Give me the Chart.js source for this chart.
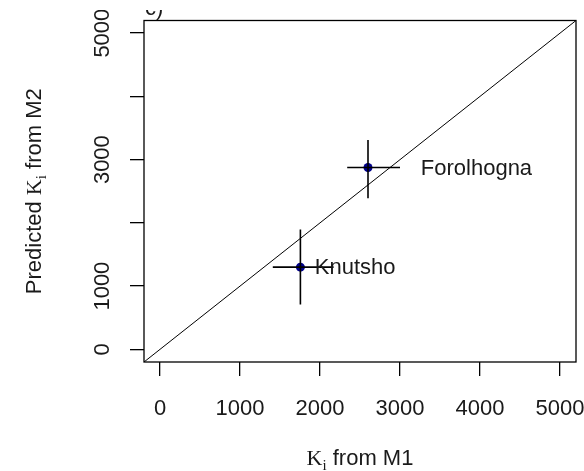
<!DOCTYPE html>
<html>
<head>
<meta charset="utf-8">
<script src="https://cdn.jsdelivr.net/npm/chart.js@4.4.1/dist/chart.umd.min.js"></script>
<style>
  html, body { margin: 0; padding: 0; background: #fff; }
  #wrap { width: 584px; height: 471px; }
</style>
</head>
<body>
<div id="wrap"><canvas id="chart" width="584" height="471"></canvas></div>
<script>
// data
const sites = ['Knutsho', 'Forolhogna'];
const kM1 = [1755, 2600];
const kM2 = [1300, 2875];
const kM1Lo = [1410, 2340];
const kM1Hi = [2170, 3000];
const kM2Lo = [710, 2390];
const kM2Hi = [1895, 3310];
const labelX = [1935, 3260];

const axisMin = -200;
const axisMax = 5200;
const xTicks = [0, 1000, 2000, 3000, 4000, 5000];
const yTickLabels = [0, 1000, 3000, 5000];

const sans = '"Liberation Sans", Arial, sans-serif';
const serif = '"Liberation Serif", "Times New Roman", serif';
const textColor = '#1a1a1a';

let datasets = [];

// 1:1 line
datasets.push({
  type: 'line',
  data: [{x: axisMin, y: axisMin}, {x: axisMax, y: axisMax}],
  borderColor: '#000',
  borderWidth: 1,
  pointRadius: 0,
  fill: false
});

// error bars
for (let i = 0; i < sites.length; i++) {
  datasets.push({
    type: 'line',
    data: [{x: kM1Lo[i], y: kM2[i]}, {x: kM1Hi[i], y: kM2[i]}],
    borderColor: '#000',
    borderWidth: 1.6,
    pointRadius: 0,
    fill: false
  });
  datasets.push({
    type: 'line',
    data: [{x: kM1[i], y: kM2Lo[i]}, {x: kM1[i], y: kM2Hi[i]}],
    borderColor: '#000',
    borderWidth: 1.6,
    pointRadius: 0,
    fill: false
  });
}

// points
datasets.push({
  type: 'scatter',
  data: sites.map((s, i) => ({x: kM1[i], y: kM2[i]})),
  backgroundColor: '#00008B',
  borderColor: '#00008B',
  pointRadius: 4.5,
  borderWidth: 0
});

// draw a title with a serif K and subscript i
function drawMixed(ctx, parts, cx, baseY) {
  let widths = parts.map(p => { ctx.font = p.font; return ctx.measureText(p.text).width; });
  let total = widths.reduce((a, b) => a + b, 0);
  let x = cx - total / 2;
  ctx.textAlign = 'left';
  ctx.textBaseline = 'alphabetic';
  for (let i = 0; i < parts.length; i++) {
    ctx.font = parts[i].font;
    ctx.fillText(parts[i].text, x, baseY + (parts[i].dy || 0));
    x += widths[i];
  }
}

const rPlot = {
  id: 'rPlot',
  afterDraw(chart) {
    const ctx = chart.ctx;
    const area = chart.chartArea;
    const xs = chart.scales.x;
    const ys = chart.scales.y;

    // box
    ctx.save();
    ctx.strokeStyle = '#000';
    ctx.lineWidth = 1.3;
    ctx.strokeRect(area.left, area.top, area.right - area.left, area.bottom - area.top);

    // site labels
    ctx.fillStyle = textColor;
    ctx.font = '22px ' + sans;
    ctx.textAlign = 'left';
    ctx.textBaseline = 'middle';
    for (let i = 0; i < sites.length; i++) {
      ctx.fillText(sites[i], xs.getPixelForValue(labelX[i]), ys.getPixelForValue(kM2[i]) + 1);
    }

    // image is cropped at the top
    ctx.beginPath();
    ctx.rect(0, 10, chart.width, chart.height);
    ctx.clip();

    // rotated y tick labels
    ctx.font = '22px ' + sans;
    ctx.textAlign = 'center';
    ctx.textBaseline = 'alphabetic';
    for (let v of yTickLabels) {
      ctx.save();
      ctx.translate(area.left - 35, ys.getPixelForValue(v));
      ctx.rotate(-Math.PI / 2);
      ctx.fillText(String(v), 0, 0);
      ctx.restore();
    }

    // x title
    const cx = (area.left + area.right) / 2;
    drawMixed(ctx, [
      {text: 'K', font: '22px ' + serif},
      {text: 'i', font: '15px ' + serif, dy: 5},
      {text: ' from M1', font: '22px ' + sans}
    ], cx, 465);

    // y title
    const cy = (area.top + area.bottom) / 2;
    ctx.save();
    ctx.translate(41, cy);
    ctx.rotate(-Math.PI / 2);
    drawMixed(ctx, [
      {text: 'Predicted ', font: '22px ' + sans},
      {text: 'K', font: '22px ' + serif},
      {text: 'i', font: '15px ' + serif, dy: 5},
      {text: ' from M2', font: '22px ' + sans}
    ], 0, 0);
    ctx.restore();

    // panel letter
    ctx.font = '22px ' + sans;
    ctx.textAlign = 'left';
    ctx.fillText('c)', area.left + 1, 15);
    ctx.restore();
  }
};

new Chart(document.getElementById('chart'), {
  type: 'scatter',
  data: { datasets: datasets },
  options: {
    responsive: false,
    animation: false,
    events: [],
    layout: { padding: { top: 20.5, right: 8, left: 0, bottom: 0 } },
    plugins: { legend: { display: false }, tooltip: { enabled: false } },
    scales: {
      x: {
        type: 'linear',
        min: axisMin,
        max: axisMax,
        afterBuildTicks: (s) => { s.ticks = xTicks.map(v => ({value: v})); },
        afterFit: (s) => { s.height = 109; s.paddingLeft = 0; s.paddingRight = 0; },
        border: { display: false },
        grid: { drawOnChartArea: false, drawTicks: true, tickLength: 14, color: '#000', lineWidth: 1.3 },
        ticks: { color: textColor, font: { family: sans, size: 22 }, padding: 20, maxRotation: 0,
                 callback: (v) => String(v) }
      },
      y: {
        type: 'linear',
        min: axisMin,
        max: axisMax,
        afterBuildTicks: (s) => { s.ticks = xTicks.map(v => ({value: v})); },
        afterFit: (s) => { s.width = 144; s.paddingTop = 0; s.paddingBottom = 0; },
        border: { display: false },
        grid: { drawOnChartArea: false, drawTicks: true, tickLength: 14, color: '#000', lineWidth: 1.3 },
        ticks: { display: false }
      }
    }
  },
  plugins: [rPlot]
});
</script>
</body>
</html>
